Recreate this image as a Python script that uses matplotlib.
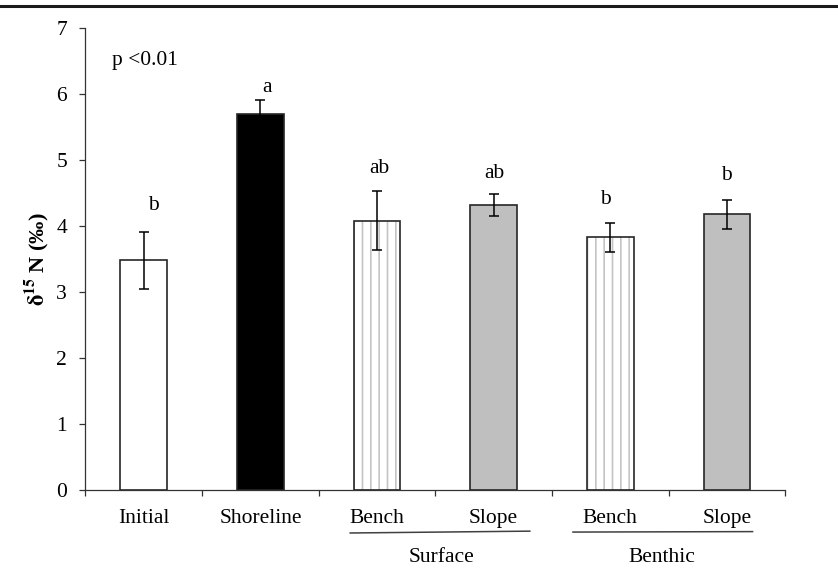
import matplotlib.pyplot as plt
from matplotlib.lines import Line2D

plt.rcParams['font.family'] = ['Liberation Serif', 'DejaVu Serif']
plt.rcParams['mathtext.fontset'] = 'stix'
plt.rcParams['hatch.linewidth'] = 1.2

# d15N per treatment (mean and SE)
categories = ['Initial', 'Shoreline', 'Bench', 'Slope', 'Bench', 'Slope']
means = [3.48, 5.70, 4.08, 4.32, 3.83, 4.18]
errors = [0.43, 0.21, 0.45, 0.17, 0.22, 0.22]
letters = ['b', 'a', 'ab', 'ab', 'b', 'b']
groups = ['Surface', 'Benthic']
p_text = 'p <0.01'

# bar styling per treatment
faces = ['white', 'black', 'white', '#bfbfbf', 'white', '#bfbfbf']
hatches = [None, None, '||', None, '||', None]

# letter placement relative to the top of each error bar
letter_gap = [0.33, 0.12, 0.28, 0.23, 0.28, 0.30]
letter_dx = [0.08, 0.06, 0.02, 0.01, -0.04, 0.0]

fig = plt.figure(figsize=(8.38, 5.69), dpi=100)
ax = fig.add_axes([0.102, 0.1388, 0.835, 0.812])

x = [i + 0.5 for i in range(len(categories))]
edge = '#262626'

for xi, m, fc, h in zip(x, means, faces, hatches):
    if h:
        ax.bar(xi, m, width=0.4, color=fc, edgecolor='#c4c4c4',
               hatch=h, linewidth=0, zorder=2)
        ax.bar(xi, m, width=0.4, color='none', edgecolor=edge,
               linewidth=1.2, zorder=3)
    else:
        ax.bar(xi, m, width=0.4, color=fc, edgecolor=edge,
               linewidth=1.2, zorder=3)

ax.errorbar(x, means, yerr=errors, fmt='none', ecolor='black',
            elinewidth=1.1, capsize=3.3, capthick=1.1, zorder=4)

for xi, m, e, lab, g, dx in zip(x, means, errors, letters, letter_gap, letter_dx):
    ax.text(xi + dx, m + e + g, lab, ha='center', va='baseline', fontsize=15.5)

ax.text(0.225, 6.44, p_text, ha='left', va='baseline', fontsize=15.5)

ax.set_xlim(0, 6)
ax.set_ylim(0, 7)
ax.set_yticks(range(8))

ax.set_xticks(range(7))
ax.set_xticklabels([])
ax.set_xticks(x, categories, minor=True)
ax.tick_params(axis='x', which='major', direction='out', length=4.5,
               width=0.9, color='#333333')
ax.tick_params(axis='x', which='minor', length=0, pad=13.5, labelsize=15.5)
ax.tick_params(axis='y', direction='out', length=4.3, width=0.9,
               color='#333333', pad=9, labelsize=15.5)

for side in ['top', 'right']:
    ax.spines[side].set_visible(False)
for side in ['left', 'bottom']:
    ax.spines[side].set_linewidth(0.9)
    ax.spines[side].set_color('#333333')

ax.text(-0.070, 0.5, r'$\mathbf{\delta^{15}}$ N (‰)', transform=ax.transAxes,
        rotation=90, ha='center', va='center', fontsize=16, fontweight='bold')

# group underlines and names below the category labels
tr = ax.get_xaxis_transform()
ax.add_line(Line2D([2.27, 3.81], [-0.093, -0.089], transform=tr, color='#404040',
                   linewidth=1.1, clip_on=False))
ax.add_line(Line2D([4.18, 5.72], [-0.091, -0.090], transform=tr, color='#404040',
                   linewidth=1.1, clip_on=False))
ax.text(3.05, -0.147, groups[0], transform=tr, ha='center', va='center', fontsize=15.5)
ax.text(4.94, -0.147, groups[1], transform=tr, ha='center', va='center', fontsize=15.5)

# rule across the top of the page
fig.add_artist(Line2D([0, 1], [0.990, 0.990], transform=fig.transFigure,
                      color='#1a1a1a', linewidth=2.2))

fig.savefig('out.png', dpi=100)
